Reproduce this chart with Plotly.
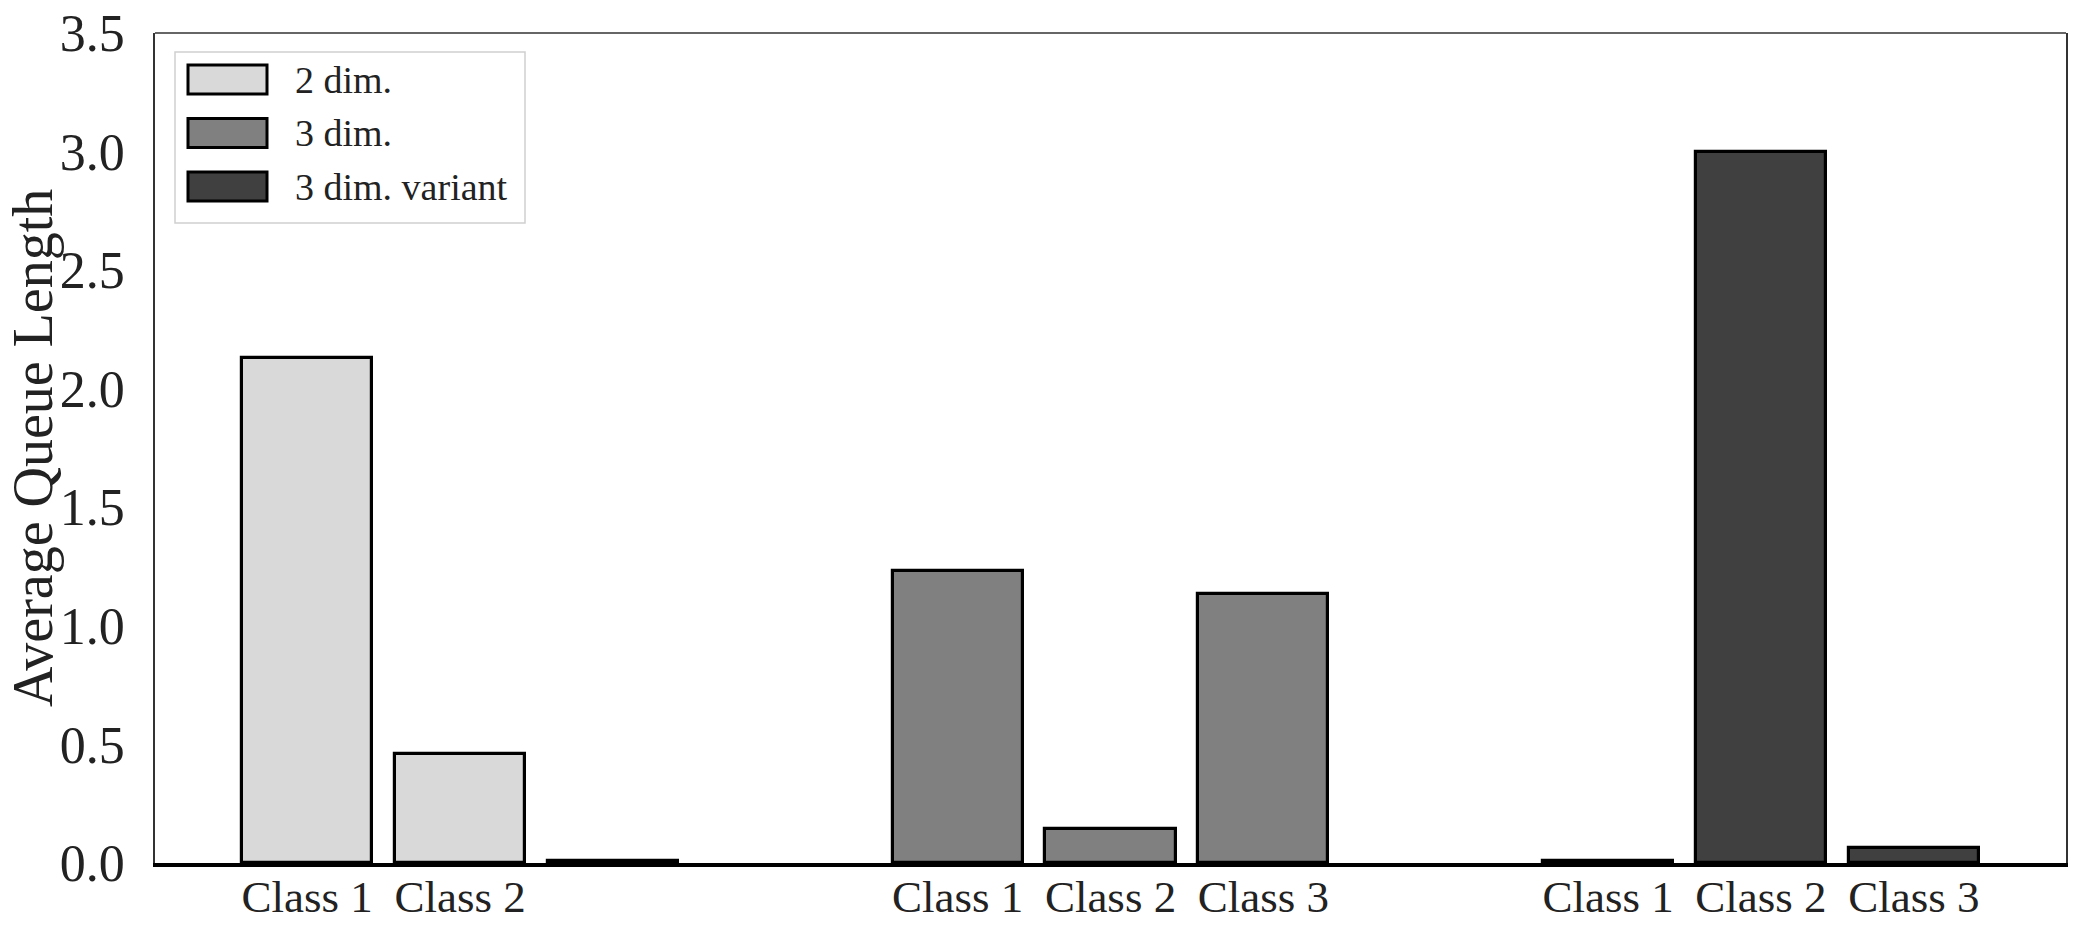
import plotly.graph_objects as go

# series (one per dimension setting) and per-class values
series_names = ['2 dim.', '3 dim.', '3 dim. variant']
series_colors = ['#d9d9d9', '#808080', '#404040']
class_offsets = [-0.235, 0.0, 0.235]

values_2dim = [2.13, 0.46, 0.008]
values_3dim = [1.23, 0.145, 1.135]
values_3dim_variant = [0.008, 3.0, 0.065]

tick_labels_2dim = ['Class 1', 'Class 2', '']
tick_labels_3dim = ['Class 1', 'Class 2', 'Class 3']
tick_labels_3dim_variant = ['Class 1', 'Class 2', 'Class 3']

y_ticks = [0.0, 0.5, 1.0, 1.5, 2.0, 2.5, 3.0, 3.5]
y_title = 'Average Queue Length'

FONT = 'Liberation Serif'
W, H = 2094, 928
# plot area in page pixels
PL, PR, PT, PB = 155, 2066, 33, 863


def px_x(p):
    return (p - PL) / (PR - PL)


def px_y(p):
    return 1 - (p - PT) / (PB - PT)


all_values = [values_2dim, values_3dim, values_3dim_variant]
all_labels = [tick_labels_2dim, tick_labels_3dim, tick_labels_3dim_variant]

fig = go.Figure()
tickvals, ticktext = [], []
for g, (name, color, vals, labs) in enumerate(
        zip(series_names, series_colors, all_values, all_labels)):
    xs = [g + o for o in class_offsets]
    fig.add_trace(go.Bar(x=xs, y=vals, name=name, width=0.2,
                         marker=dict(color=color,
                                     line=dict(color='black', width=3.2)),
                         showlegend=False))
    tickvals += xs
    ticktext += labs

fig.update_xaxes(range=[-0.469, 2.469], tickvals=tickvals, ticktext=ticktext,
                 showline=True, linecolor='black', linewidth=4,
                 showgrid=False, zeroline=False, ticks='', automargin=False,
                 ticklabelstandoff=-9, ticklabeloverflow='allow',
                 tickfont=dict(family=FONT, size=45, color='#222'))
fig.update_yaxes(range=[0, 3.5], tickvals=y_ticks, tickformat='.1f',
                 showline=True, linecolor='#333', linewidth=1.5, mirror=True,
                 showgrid=False, zeroline=False, ticks='', automargin=False,
                 ticklabelstandoff=18, ticklabeloverflow='allow',
                 tickfont=dict(family=FONT, size=52, color='#222'))

# top frame line
shapes = [dict(type='line', xref='paper', yref='paper', x0=0, x1=1, y0=1, y1=1,
               line=dict(color='#333', width=1.5))]

# y axis title as a rotated annotation so its position is exact
annotations = [dict(x=px_x(33), y=px_y(448), xref='paper', yref='paper',
                    text=y_title, textangle=-90, showarrow=False,
                    xanchor='center', yanchor='middle',
                    font=dict(family=FONT, size=56, color='#222'))]

# legend box drawn by hand so the swatches match the big rectangles
shapes.append(dict(type='rect', xref='paper', yref='paper',
                   x0=px_x(175), x1=px_x(525), y0=px_y(223), y1=px_y(52),
                   line=dict(color='#d0d0d0', width=1.5), fillcolor='white'))
for i, (name, color) in enumerate(zip(series_names, series_colors)):
    cy = 79.5 + i * 53.5
    shapes.append(dict(type='rect', xref='paper', yref='paper',
                       x0=px_x(188), x1=px_x(267),
                       y0=px_y(cy + 14.5), y1=px_y(cy - 14.5),
                       fillcolor=color, line=dict(color='black', width=3)))
    annotations.append(dict(x=px_x(293), y=px_y(cy), xref='paper',
                            yref='paper', text=name, showarrow=False,
                            xanchor='left', yanchor='middle',
                            font=dict(family=FONT, size=38, color='#222')))

fig.update_layout(width=W, height=H,
                  margin=dict(l=PL, r=W - PR, t=PT, b=H - PB),
                  plot_bgcolor='white', paper_bgcolor='white',
                  bargap=0, shapes=shapes, annotations=annotations)

# drop the browser's default body margin so the figure fills the window
fig.write_html("out.html", config={'displayModeBar': False},
               post_script="document.body.style.margin='0';"
                           "document.body.style.overflow='hidden';")
